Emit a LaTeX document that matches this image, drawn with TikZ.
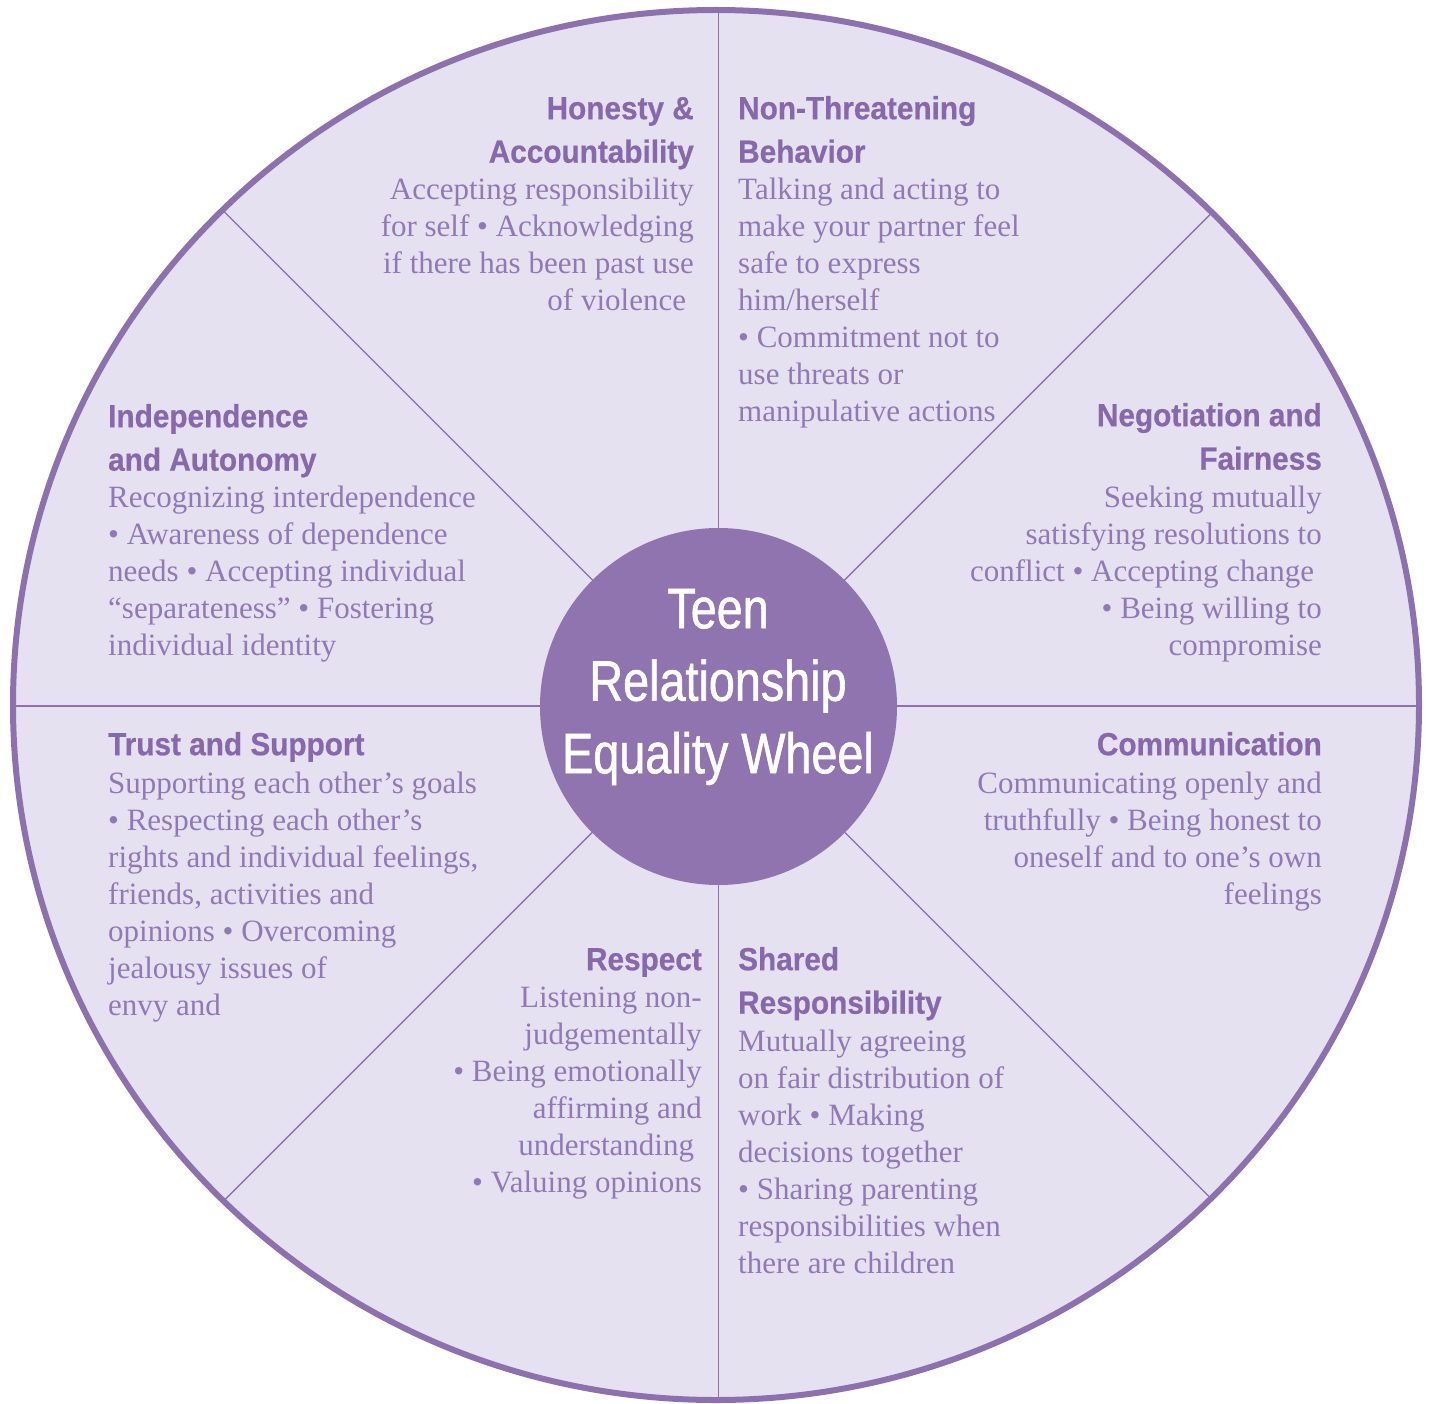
\documentclass[tikz,border=0pt]{standalone}
\usepackage{fontspec}
\setmainfont{Liberation Serif}
\newfontfamily\headfont[FakeStretch=0.93,FakeBold=0.6]{Liberation Sans Bold}
\newfontfamily\titlefont[FakeStretch=0.82,FakeBold=1]{Liberation Sans}
\definecolor{wheelfill}{HTML}{E6E1F0}
\definecolor{ringcol}{HTML}{8C71AE}
\definecolor{hubfill}{HTML}{8F74B0}
\definecolor{headtext}{HTML}{8769AB}
\definecolor{bodytext}{HTML}{9079B4}
\begin{document}
\begin{tikzpicture}[x=1pt,y=-1pt,
  headstyle/.style={inner sep=0pt, text=headtext, font=\headfont\fontsize{32}{43.5}\selectfont},
  bodystyle/.style={inner sep=0pt, text=bodytext, font=\fontsize{31}{37}\selectfont},
  titlestyle/.style={inner sep=0pt, text=white, font=\titlefont\fontsize{57}{72.5}\selectfont, align=center},
  divider/.style={draw=ringcol, line width=1.4pt},
  ringline/.style={draw=ringcol, line width=6pt},
  lefttext/.style={anchor=north west, align=left},
  righttext/.style={anchor=north east, align=right}]
\useasboundingbox (0,0) rectangle (1429,1404);
\fill[wheelfill] (716,705) ellipse [x radius=703pt, y radius=695pt];
\coordinate (c) at (718.5,706);
\begin{scope}
  \clip (716,705) ellipse [x radius=703pt, y radius=695pt];
  \foreach \a in {0,45,...,315} \draw[divider] (c) -- ++(\a:900pt);
\end{scope}
\draw[ringline] (716,705) ellipse [x radius=703pt, y radius=695pt];
\node[circle, fill=hubfill, minimum size=357pt, inner sep=0pt] (hub) at (718.5,706.5) {};
\node[titlestyle, anchor=north] (title) at (718,577.25) {\strut Teen\\Relationship\\Equality Wheel};

% Honesty & Accountability
\node[headstyle, righttext] (h1) at (694,88.55) {\strut Honesty \&\\Accountability};
\node[bodystyle, righttext] (b1) at (694,173.1) {\strut Accepting responsibility\\for self • Acknowledging\\if there has been past use\\of violence\kern0.25em};

% Non-Threatening Behavior
\node[headstyle, lefttext] (h2) at (738,88.55) {\strut Non-Threatening\\Behavior};
\node[bodystyle, lefttext] (b2) at (738,173.1) {\strut Talking and acting to\\make your partner feel\\safe to express\\him/herself\\• Commitment not to\\use threats or\\manipulative actions};

% Negotiation and Fairness
\node[headstyle, righttext] (h3) at (1322,395.55) {\strut Negotiation and\\Fairness};
\node[bodystyle, righttext] (b3) at (1322,481.1) {\strut Seeking mutually\\satisfying resolutions to\\conflict • Accepting change\kern0.25em\\• Being willing to\\compromise};

% Communication
\node[headstyle, righttext] (h4) at (1322,724.55) {\strut Communication};
\node[bodystyle, righttext] (b4) at (1322,767.1) {\strut Communicating openly and\\truthfully • Being honest to\\oneself and to one’s own\\feelings};

% Shared Responsibility
\node[headstyle, lefttext] (h5) at (738,939.55) {\strut Shared\\Responsibility};
\node[bodystyle, lefttext] (b5) at (738,1025.1) {\strut Mutually agreeing\\on fair distribution of\\work • Making\\decisions together\\• Sharing parenting\\responsibilities when\\there are children};

% Respect
\node[headstyle, righttext] (h6) at (702,939.55) {\strut Respect};
\node[bodystyle, righttext] (b6) at (702,981.1) {\strut Listening non-\\judgementally\\• Being emotionally\\affirming and\\understanding\kern0.25em\\• Valuing opinions};

% Trust and Support
\node[headstyle, lefttext] (h7) at (108,724.55) {\strut Trust and Support};
\node[bodystyle, lefttext] (b7) at (108,767.1) {\strut Supporting each other’s goals\\• Respecting each other’s\\rights and individual feelings,\\friends, activities and\\opinions • Overcoming\\jealousy issues of\\envy and};

% Independence and Autonomy
\node[headstyle, lefttext] (h8) at (108,396.55) {\strut Independence\\and Autonomy};
\node[bodystyle, lefttext] (b8) at (108,481.1) {\strut Recognizing interdependence\\• Awareness of dependence\\needs • Accepting individual\\“separateness” • Fostering\\individual identity};
\end{tikzpicture}
\end{document}
